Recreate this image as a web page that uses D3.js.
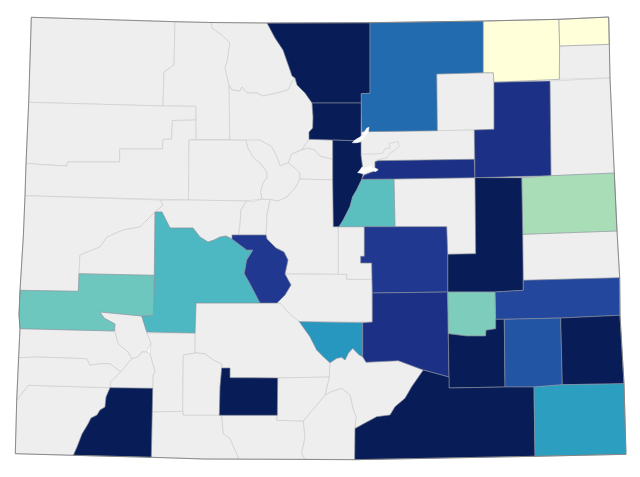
<!DOCTYPE html>
<html>
<head>
<meta charset="utf-8">
<script src="https://cdn.jsdelivr.net/npm/d3@7"></script>
<style>
html, body { margin: 0; padding: 0; background: #fff; }
svg { display: block; }
</style>
</head>
<body>
<svg id="map" width="640" height="477"></svg>
<script>
// county names, value (null = no data) and outline in projected map units, same order
var countyNames = ['Moffat', 'Routt', 'Rio Blanco', 'Garfield', 'Eagle', 'Pitkin', 'Lake', 'Mesa', 'Delta',
    'Ouray', 'Hinsdale', 'Saguache', 'Huerfano', 'Mineral', 'Archuleta', 'Conejos', 'Costilla', 'Montezuma',
    'San Miguel', 'Dolores', 'San Juan', 'Jackson', 'Grand', 'Summit', 'Clear Creek', 'Park', 'Fremont', 'Teller',
    'Morgan', 'Phillips', 'Yuma', 'Elbert', 'Cheyenne', 'Adams', 'Denver', 'Gilpin', 'Rio Grande',
    'Gunnison', 'Chaffee', 'Montrose', 'Custer', 'La Plata', 'Alamosa', 'Larimer', 'Boulder', 'Jefferson', 'Douglas',
    'Arapahoe', 'Weld', 'Logan', 'Sedgwick', 'Washington', 'Kit Carson', 'Lincoln', 'El Paso', 'Pueblo', 'Kiowa',
    'Crowley', 'Otero', 'Bent', 'Prowers', 'Las Animas', 'Baca', 'Broomfield', 'Littleton'];

var countyValues = [null, null, null, null, null, null, null, null, null,
    null, null, null, null, null, null, null, null, null,
    null, null, null, null, null, null, null, null, null, null,
    null, null, null, null, null, null, null, null, null,
    48, 87, 41, 60, 100, 100, 100, 100, 100, 45,
    90, 72, 0, 0, 90, 30, 100, 87, 90, 82,
    38, 100, 78, 100, 100, 58, null, null];

var countyRings = [
    [[31.3,17.3],[175,21.7],[174,65],[164,72],[163,106],[28.7,102.3]],
    [[175,21.7],[211,22.5],[212,28],[222,35],[230,43],[227,62],[225,68],[229,85],[230,106],[229.7,139.5],[196,139.5],[195.7,106.3],[163,106],[164,72],[174,65]],
    [[28.7,102.3],[163,106],[195.7,106.3],[195.7,120],[172.5,120.5],[171.5,139],[163,139.5],[162.5,149],[119.7,149],[119.7,162],[67.5,162],[67,166],[40,164.5],[26,163.3]],
    [[26,163.3],[40,164.5],[67,166],[67.5,162],[119.7,162],[119.7,149],[162.5,149],[163,139.5],[171.5,139],[172.5,120.5],[195.7,120],[196,139.5],[189,140],[188.5,200],[25,195.7]],
    [[189,140],[246,140],[248,148],[253,157],[260,163],[267,172],[267,178],[263,183],[260.7,192],[262,199],[246.7,201],[188.5,200]],
    [[160,200],[188.5,200],[246.7,201],[241,210],[240,225],[238,238],[232,239],[226,236],[220,237],[214,240],[208,242],[200,237],[193,228],[170,228],[162,212],[155,212],[163,205]],
    [[246.7,201],[252,202],[262,199],[270,199.6],[267,215],[266,235],[232,235],[232,239],[238,238],[240,225],[241,210]],
    [[25,195.7],[160,200],[163,205],[155,212],[140,227],[123,230],[107,237],[100,247],[80,255],[79,273.7],[78.3,291.3],[20,290.3],[23.3,237]],
    [[80,255],[100,247],[107,237],[123,230],[140,227],[155,212],[154.3,275.3],[79,273.7]],
    [[100,312],[141.7,316],[146.7,332],[151,343],[146.7,352],[141.7,352],[138,357],[131.7,358.7],[128,352],[118,343.7],[115,332],[115,324],[104,318]],
    [[146.7,333],[195,333],[195,353],[183.3,355],[182.7,411.3],[152.3,412],[152.7,388.3],[153,375],[155,372],[150,354],[151,343]],
    [[196,303],[280,303],[290,314],[299.3,321.7],[310,336.7],[316.7,350],[323.3,356.7],[330,362.7],[329.3,377],[277.7,378],[230,377.7],[230,368],[221.7,368],[221.7,364],[213,360],[205,353.7],[196.7,353],[195,353]],
    [[330,362.7],[336.7,358.3],[341.7,357.3],[345,360],[348.3,353.3],[352.7,348.3],[356,351.7],[359.3,355],[362.7,356.7],[366,362.3],[398.3,360.7],[423.3,370],[411.7,386.7],[405,398.3],[395,406.7],[390,415],[376.7,416.7],[365,423],[355,428.5],[356,416.7],[353.3,410],[350,395],[341.7,388.3],[331.7,391.7],[325,395],[329.3,377]],
    [[183.3,355],[196.7,353],[205,353.7],[213,360],[221.7,364],[221.7,368],[220,387],[219.3,415.3],[183.3,415.3],[182.7,411.3]],
    [[152.3,412],[182.7,411.3],[183.3,415.3],[221.7,415.3],[223.3,433.7],[230,438.7],[239,459],[204.3,459],[151.3,457.3]],
    [[221.7,415.3],[277.3,415.3],[276.7,420.3],[303.3,421],[305,437],[301.7,453.7],[305,459],[239,459],[230,438.7],[223.3,433.7]],
    [[303.3,421],[325,395],[331.7,391.7],[341.7,388.3],[350,395],[353.3,410],[356,416.7],[355,428.5],[354.7,459.7],[305,459],[301.7,453.7],[305,437]],
    [[15.3,453.7],[73.3,455.3],[77,447],[82,434],[88,424],[91,418],[97,415],[100,410],[105,407],[106,397],[110,387.7],[28.3,385.3],[16.7,400.3]],
    [[114.3,331],[20,328.7],[18.3,357.7],[38.3,357],[86.7,358.7],[90,365.3],[100,363.7],[110,363.7],[120.7,372],[131.7,358.7],[128,352],[118,343.7],[115,332]],
    [[18.3,357.7],[38.3,357],[86.7,358.7],[90,365.3],[100,363.7],[110,363.7],[120.7,372],[110.7,382],[110,387.7],[28.3,385.3],[16.7,400.3]],
    [[120.7,372],[131.7,358.7],[138,357],[141.7,352],[146.7,352],[150,354],[155,372],[153,375],[152.7,388.3],[110,387.7],[110.7,382]],
    [[211,22.5],[267,23],[275,38],[283,50],[290,70],[292,76],[295,78],[293,80],[288,90],[277,93],[263,96],[257,93],[247,93],[242,87],[240,91],[232,90],[229,85],[225,68],[227,62],[230,43],[222,35],[212,28]],
    [[229,85],[232,90],[240,91],[242,87],[247,93],[257,93],[263,96],[277,93],[288,90],[293,80],[295,78],[297,85],[305,93],[312,103],[313,117],[312.7,128],[309,132],[309,139.3],[301.7,150],[291.7,154],[288.3,163],[280,165.7],[276.7,156.7],[271.7,146.7],[260,140],[248,141.7],[246,140],[229.7,139.5]],
    [[246,140],[260,140],[271.7,146.7],[276.7,156.7],[280,165.7],[288.3,163],[295,168],[300,173],[300,179],[295,188],[287,197],[278,201],[270,199.6],[262,199],[260.7,192],[263,183],[267,178],[267,172],[260,163],[253,157],[248,148]],
    [[288.3,163],[291.7,154],[301.7,150],[308,148],[315,150],[320,156],[332.7,159.3],[332.7,180],[300,179],[300,173],[295,168]],
    [[300,179],[332.7,180],[333.3,226.7],[338.3,226.7],[338.3,274.3],[285,274],[288,260],[284,252],[276,248],[267,239],[266,235],[267,215],[270,199.6],[278,201],[287,197],[295,188]],
    [[285,274],[338.3,274.3],[346.7,274.3],[346.7,279.3],[371.7,279.3],[372.3,322],[299.3,321.7],[290,314],[280,303],[277,303],[285,295],[291,285]],
    [[338.3,226.7],[364.3,226.7],[364.3,256.3],[360.7,256.3],[360.7,263],[371.7,263],[371.7,279.3],[346.7,279.3],[346.7,274.3],[338.3,274.3]],
    [[436.7,74],[493.3,72.7],[494,129.3],[474.3,130],[437.3,130.7]],
    [[559.6,46],[609.3,44.3],[610,78],[559.3,79.3]],
    [[550,81],[610,78],[614.3,173],[551,175.7]],
    [[394,179],[475,177.7],[475.7,253.7],[447.7,254.3],[446.7,226.7],[395,226.7]],
    [[522.7,234.3],[617,231],[619.7,277.7],[523.3,280.3]],
    [[361.7,131.7],[437.3,130.7],[474.3,130],[474.3,159.3],[378,160.7],[375,161.7],[375,168.3],[378,170],[372,172],[364,175],[363.3,173],[361,155],[361,141]],
    [[361,154],[375,154],[383,153],[385,148.3],[390,148.3],[389,143.3],[398.3,141.7],[399,146.7],[395,150],[390,153.3],[386.7,158],[376.7,160],[375,161.7],[375,168.3],[378,170],[372,172],[364,175],[363.3,173]],
    [[309,139.3],[332.7,140],[332.7,159.3],[320,156],[315,150],[308,148],[301.7,150]],
    [[277.7,378],[329.3,377],[325,395],[303.3,421],[276.7,420.3],[277.3,415.3]],
    [[155,212],[162,212],[170,228],[193,228],[200,237],[208,242],[214,240],[220,237],[226,236],[232,239],[246.7,250],[253,250],[246.7,260],[244.3,273.7],[250,283.7],[260,303],[196,303],[195,333],[146.7,332],[141.7,316],[153.3,315.3],[154.3,275.3]],
    [[232,235],[266,235],[267,239],[276,248],[284,252],[288,260],[285,274],[291,285],[285,295],[277,303],[260,303],[250,283.7],[244.3,273.7],[246.7,260],[253,250],[246.7,250],[232,239]],
    [[20,290.3],[78.3,291.3],[79,273.7],[154.3,275.3],[153.3,315.3],[141.7,316],[100,312],[104,318],[115,324],[114.3,331],[20,328.7],[19,315]],
    [[299.3,321.7],[362.7,322.7],[362.7,356.7],[359.3,355],[356,351.7],[352.7,348.3],[348.3,353.3],[345,360],[341.7,357.3],[336.7,358.3],[330,362.7],[323.3,356.7],[316.7,350],[310,336.7]],
    [[110,387.7],[152.7,388.3],[151.3,457.3],[73.3,455.3],[77,447],[82,434],[88,424],[91,418],[97,415],[100,410],[105,407],[106,397]],
    [[221.7,368],[230,368],[230,377.7],[277.7,378],[277.3,415.3],[219.3,415.3],[220,387]],
    [[267,23],[370,22.7],[370,93.3],[361.3,93.7],[361.3,103],[312,103],[305,93],[297,85],[295,78],[292,76],[290,70],[283,50],[275,38]],
    [[312,103],[361.3,103],[361,141],[332.7,140],[309,139.3],[309,132],[312.7,128],[313,117]],
    [[332.7,140],[361,141],[361,155],[363.3,173],[361.7,180],[356.7,190],[352.7,196.7],[350,206.7],[343.3,220],[339,226.7],[333.3,226.7],[332.7,180],[332.7,159.3]],
    [[361.7,179.3],[394,179],[395,226.7],[339,226.7],[343.3,220],[350,206.7],[352.7,196.7],[356.7,190]],
    [[361.7,179.3],[364,175],[372,172],[378,170],[375,168.3],[375,161.7],[378,160.7],[474.3,159.3],[475,177.7],[394,179]],
    [[370,22.7],[483.3,21],[483.3,72.7],[436.7,74],[437.3,130.7],[361.7,131.7],[361.3,93.7],[370,93.3]],
    [[483.3,21],[559,19.3],[559.6,46],[559.3,79.3],[494,82.3],[493.3,72.7],[483.3,72.7]],
    [[559,19.3],[608.7,17],[609.3,44.3],[559.6,46]],
    [[494,82.3],[550,81],[551,175.7],[475,177.7],[474.3,130],[494,129.3]],
    [[521.7,177.7],[551,175.7],[614.3,173],[617,231],[522.7,234.3]],
    [[475,177.7],[521.7,177.7],[522.7,234.3],[523.3,290.3],[495,292],[447.7,292],[447.7,254.3],[475.7,253.7]],
    [[364.3,226.7],[446.7,226.7],[447.7,254.3],[447.7,292],[372.3,293],[371.7,263],[360.7,263],[360.7,256.3],[364.3,256.3]],
    [[372.3,293],[447.7,292],[448.3,333.7],[449,377],[423.3,370],[398.3,360.7],[366,362.3],[362.7,356.7],[362.7,322.7],[372.3,322]],
    [[523.3,280.3],[619.7,277.7],[620,315.3],[560.7,318],[504.3,319.3],[495.7,319.3],[495,292],[523.3,290.3]],
    [[447.7,292],[495,292],[495.7,328.7],[486,330.3],[485.7,336],[466.7,336],[448.3,333.7]],
    [[448.3,333.7],[466.7,336],[485.7,336],[486,330.3],[495.7,328.7],[495.7,319.3],[504.3,319.3],[505,387],[449,388],[449,377]],
    [[504.3,319.3],[560.7,318],[562.3,384.7],[534,387],[505,387]],
    [[560.7,318],[620,315.3],[624,383.7],[562.3,384.7]],
    [[423.3,370],[449,377],[449,388],[505,387],[534,387],[535,456.3],[354.7,459.7],[355,428.5],[365,423],[376.7,416.7],[390,415],[395,406.7],[405,398.3],[411.7,386.7]],
    [[534,387],[562.3,384.7],[624,383.7],[626,454.3],[535,456.3]],
    [[352.3,142.7],[355,140],[361.7,136],[366.7,128.3],[369,127.3],[368.3,131.7],[363.3,138.3],[361,141.7],[356.7,142.7]],
    [[357.7,172.7],[360,170],[362,167],[364,168],[369,167],[371,166],[372,169],[375,168],[378,169.5],[376,171.5],[372,170.5],[367,171.5],[363.5,174],[360,173]]
];

var stateRing = [[31.3,17.3],[175,21.7],[211,22.5],[267,23],[370,22.7],[483.3,21],[559,19.3],[608.7,17],[609.3,44.3],[610,78],
    [614.3,173],[617,231],[619.7,277.7],[620,315.3],[624,383.7],[626,454.3],[535,456.3],[354.7,459.7],[204.3,459],[151.3,457.3],
    [73.3,455.3],[15.3,453.7],[16.7,400.3],[20,328.7],[19,315],[20,290.3],[23.3,237],[25,195.7],[26,163.3],[28.7,102.3]];

var noDataFill = '#eeeeee';
var whiteIds = ['Broomfield', 'Littleton'];

// geojson rings have to end on their first point, d3 drops the last one
function polygon(ring) {
    return { type : 'Polygon', coordinates : [ring.concat([ring[0]])] };
}

var color = d3.scaleSequential(d3.interpolateYlGnBu).domain([0, 100]);

var stateOutline = polygon(stateRing);
var projection = d3.geoIdentity().fitExtent([[15.3, 17], [626, 459.7]], stateOutline);
var path = d3.geoPath(projection);

var counties = countyNames.map(function(name, i) {
    return { name : name, value : countyValues[i], geometry : polygon(countyRings[i]) };
});

var svg = d3.select('#map');

svg.append('g').selectAll('path').data(counties).enter().append('path')
    .attr('d', function(d) { return path(d.geometry); })
    .attr('fill', function(d) {
        if (whiteIds.indexOf(d.name) >= 0) return '#fff';
        return d.value === null ? noDataFill : color(d.value);
    })
    .attr('stroke', function(d) {
        if (whiteIds.indexOf(d.name) >= 0) return '#fff';
        return d.value === null ? '#c9c9c9' : '#8a8f9c';
    })
    .attr('stroke-width', 0.6)
    .attr('stroke-linejoin', 'round');

svg.append('path')
    .attr('d', path(stateOutline))
    .attr('fill', 'none')
    .attr('stroke', '#808080')
    .attr('stroke-width', 0.9);
</script>
</body>
</html>
